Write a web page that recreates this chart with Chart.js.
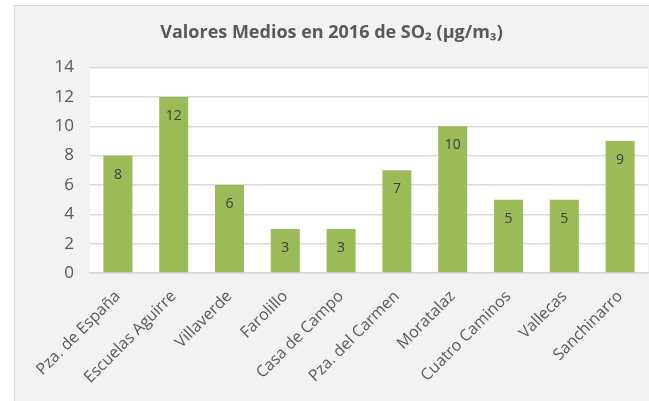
<!DOCTYPE html>
<html>
<head>
<meta charset="utf-8">
<script src="https://cdn.jsdelivr.net/npm/chart.js@4/dist/chart.umd.min.js"></script>
<style>
  html, body { margin: 0; padding: 0; background: #ffffff; overflow: hidden; }
  #box { position: absolute; left: 14px; top: 5px; width: 652px; height: 400px;
         background: #f2f2f2; border: 1px solid #d9d9d9; }
  canvas { display: block; }
</style>
</head>
<body>
<div id="box"><canvas id="c" width="652" height="396"></canvas></div>
<script>
const categories = ["Pza. de España", "Escuelas Aguirre", "Villaverde", "Farolillo", "Casa de Campo",
                    "Pza. del Carmen", "Moratalaz", "Cuatro Caminos", "Vallecas", "Sanchinarro"];
const so2Values = [8, 12, 6, 3, 3, 7, 10, 5, 5, 9];
const titleText = "Valores Medios en 2016 de SO\u2082 (\u00b5g/m\u2083)";
const yTicks = [0, 2, 4, 6, 8, 10, 12, 14];

const FONT = "'Open Sans', 'DejaVu Sans', sans-serif";

const plotBg = {
  id: 'plotBg',
  beforeDraw(chart) {
    const a = chart.chartArea, ctx = chart.ctx;
    ctx.save();
    ctx.fillStyle = '#ffffff';
    ctx.fillRect(a.left, a.top, a.right - a.left, a.bottom - a.top);
    ctx.restore();
  }
};

const barLabels = {
  id: 'barLabels',
  afterDatasetsDraw(chart) {
    const ctx = chart.ctx;
    const meta = chart.getDatasetMeta(0);
    ctx.save();
    ctx.font = "14px " + FONT;
    ctx.fillStyle = '#404040';
    ctx.textAlign = 'center';
    ctx.textBaseline = 'middle';
    meta.data.forEach((bar, i) => {
      ctx.fillText(String(so2Values[i]), bar.x, bar.y + 19);
    });
    ctx.restore();
  }
};

new Chart(document.getElementById('c'), {
  type: 'bar',
  data: {
    labels: categories,
    datasets: [{
      data: so2Values,
      backgroundColor: '#9bbb59',
      borderWidth: 0,
      barPercentage: 0.52,
      categoryPercentage: 1.0
    }]
  },
  options: {
    responsive: false,
    animation: false,
    layout: { padding: { left: 0, right: 19, top: 0, bottom: 0 } },
    plugins: {
      legend: { display: false },
      tooltip: { enabled: false },
      title: {
        display: true,
        text: titleText,
        color: '#595959',
        font: { family: FONT, size: 18, weight: 'bold' },
        padding: { top: 16, bottom: 24 }
      }
    },
    scales: {
      x: {
        grid: { display: false },
        border: { color: '#d9d9d9', width: 1.5 },
        ticks: {
          color: '#595959',
          font: { family: FONT, size: 16 },
          maxRotation: 45, minRotation: 45,
          autoSkip: false,
          padding: 6
        },
        afterFit(scale) { scale.height = 129; }
      },
      y: {
        min: 0, max: 14,
        afterBuildTicks(scale) { scale.ticks = yTicks.map(v => ({ value: v })); },
        grid: { color: '#d9d9d9', lineWidth: 1.5, drawTicks: false },
        border: { display: false },
        ticks: {
          color: '#595959',
          font: { family: FONT, size: 17 },
          padding: 16
        },
        afterFit(scale) { scale.width = 75; }
      }
    }
  },
  plugins: [plotBg, barLabels]
});
</script>
</body>
</html>
